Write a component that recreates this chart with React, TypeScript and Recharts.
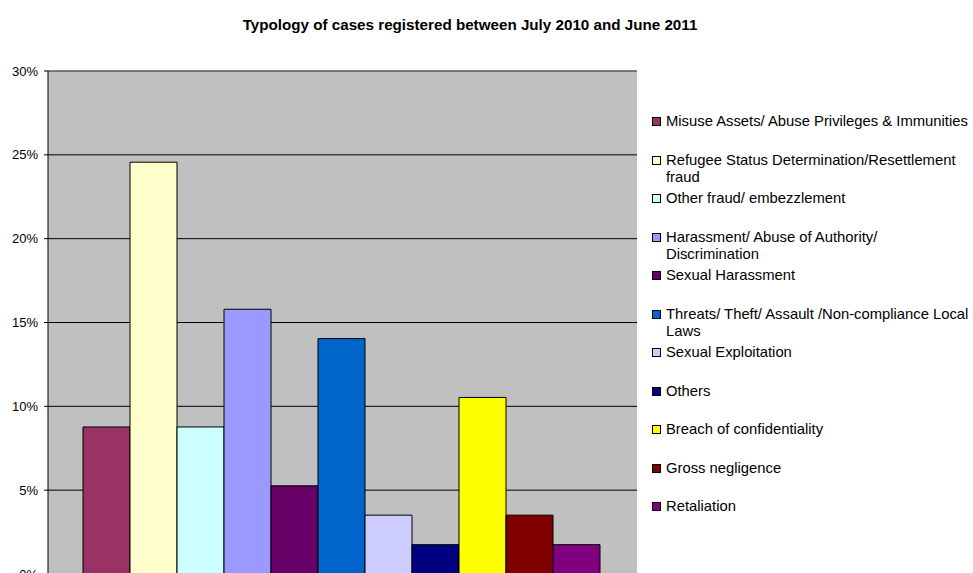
import { Bar, BarChart, CartesianGrid, ReferenceLine, XAxis, YAxis } from "recharts";

const FONT = '"Liberation Sans", Arial, sans-serif';

const caseTypes = [
  "Misuse Assets/ Abuse Privileges & Immunities",
  "Refugee Status Determination/Resettlement fraud",
  "Other fraud/ embezzlement",
  "Harassment/ Abuse of Authority/ Discrimination",
  "Sexual Harassment",
  "Threats/ Theft/ Assault /Non-compliance Local Laws",
  "Sexual Exploitation",
  "Others",
  "Breach of confidentiality",
  "Gross negligence",
  "Retaliation",
];

// share of registered cases, in percent
const caseShares = [8.77, 24.56, 8.77, 15.79, 5.26, 14.04, 3.51, 1.75, 10.53, 3.51, 1.75];

const caseColors = [
  "#993366",
  "#FFFFCC",
  "#CCFFFF",
  "#9999FF",
  "#660066",
  "#0066CC",
  "#CCCCFF",
  "#000080",
  "#FFFF00",
  "#800000",
  "#800080",
];

const yTicks = [0, 5, 10, 15, 20, 25, 30];

const periodRow: Record<string, string | number> = { period: "July 2010 - June 2011" };
caseShares.forEach((v, i) => {
  periodRow[`s${i}`] = v;
});
const chartData = [periodRow];

function SideLegend() {
  return (
    <div
      style={{
        position: "absolute",
        left: 652,
        top: 113,
        width: 320,
        fontFamily: FONT,
        fontSize: 14.8,
        lineHeight: "17px",
        color: "#000",
      }}
    >
      {caseTypes.map((name, i) => (
        <div key={name} style={{ position: "relative", height: 38.5 }}>
          <span
            style={{
              position: "absolute",
              left: 0,
              top: 4,
              width: 7,
              height: 7,
              background: caseColors[i],
              border: "1px solid #000",
            }}
          />
          <div style={{ position: "absolute", left: 14, top: 0, width: 305 }}>{name}</div>
        </div>
      ))}
    </div>
  );
}

export default function App() {
  return (
    <div
      style={{
        position: "absolute",
        left: 0,
        top: 0,
        width: 973,
        height: 573,
        overflow: "hidden",
        background: "#fff",
      }}
    >
      <div
        style={{
          position: "absolute",
          left: 0,
          width: 940,
          top: 16,
          textAlign: "center",
          fontFamily: FONT,
          fontWeight: "bold",
          fontSize: 15.2,
          lineHeight: "17px",
        }}
      >
        Typology of cases registered between July 2010 and June 2011
      </div>

      <BarChart
        width={973}
        height={620}
        data={chartData}
        margin={{ top: 71, right: 336, left: 0, bottom: 46 }}
        barCategoryGap={35}
        barGap={0}
      >
        <CartesianGrid vertical={false} stroke="#000" fill="#C0C0C0" fillOpacity={1} />
        <XAxis dataKey="period" hide />
        <YAxis
          width={48}
          domain={[0, 30]}
          ticks={yTicks}
          interval={0}
          tickFormatter={(v: number) => `${v}%`}
          tickSize={4}
          tickMargin={6}
          axisLine={{ stroke: "#000" }}
          tickLine={{ stroke: "#000" }}
          tick={{ fill: "#000", fontSize: 13, fontFamily: FONT }}
        />
        <YAxis
          yAxisId="frame"
          orientation="right"
          width={0}
          domain={[0, 30]}
          tick={false}
          tickLine={false}
          axisLine={{ stroke: "#808080" }}
        />
        {caseTypes.map((name, i) => (
          <Bar
            key={name}
            dataKey={`s${i}`}
            name={name}
            fill={caseColors[i]}
            stroke="#000"
            strokeWidth={1}
            isAnimationActive={false}
          />
        ))}
        <ReferenceLine y={30} stroke="#808080" />
      </BarChart>

      <SideLegend />
    </div>
  );
}
